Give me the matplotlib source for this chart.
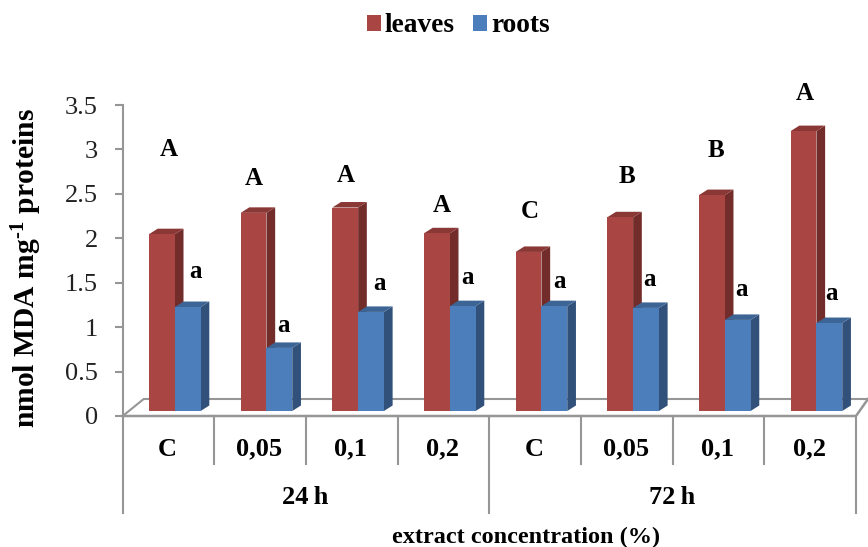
import matplotlib
matplotlib.use("Agg")
import matplotlib.pyplot as plt
from matplotlib.patches import Polygon

plt.rcParams['font.family'] = ['Liberation Serif', 'DejaVu Serif']
plt.rcParams['font.weight'] = 'bold'
plt.rcParams['mathtext.fontset'] = 'custom'
plt.rcParams['mathtext.rm'] = 'Liberation Serif:bold'
plt.rcParams['mathtext.bf'] = 'Liberation Serif:bold'
plt.rcParams['mathtext.default'] = 'rm'

# ---- data ----
concentrations = ['C', '0,05', '0,1', '0,2', 'C', '0,05', '0,1', '0,2']
times = ['24\u2009h', '72\u2009h']
leaves = [1.99, 2.23, 2.29, 2.00, 1.79, 2.18, 2.43, 3.15]
roots = [1.17, 0.71, 1.115, 1.18, 1.18, 1.16, 1.025, 0.99]
yticks = [0, 0.5, 1, 1.5, 2, 2.5, 3, 3.5]
ytick_labels = ['0', '0.5', '1', '1.5', '2', '2.5', '3', '3.5']
leaves_letters = ['A', 'A', 'A', 'A', 'C', 'B', 'B', 'A']
roots_letters = ['a'] * 8

# ---- styling / positions ----
W, H = 868, 547
AX_L, AX_R, AX_B, AX_T = 122.7, 856, 416, 105
leaves_letter_px = [(169, 150), (254, 179), (346, 175), (442, 205),
                    (530, 211), (627, 176), (716, 151), (805, 93)]
roots_letter_px = [(196, 272), (283, 325), (379, 283), (467, 278),
                   (560, 281), (650, 279), (742, 289), (832, 293)]
GRAY = '#969696'
C_L = ('#A94543', '#722D2B', '#8A3836')
C_R = ('#4C7EBB', '#31517A', '#3C6494')
FS = 19

fig = plt.figure(figsize=(W / 100, H / 100), dpi=100)
ax = fig.add_axes([AX_L / W, 1 - AX_B / H, (AX_R - AX_L) / W, (AX_B - AX_T) / H])
ax.set_xlim(0, 8)
ax.set_ylim(0, 3.5)
ax.patch.set_visible(False)
for s in ['top', 'right', 'bottom']:
    ax.spines[s].set_visible(False)
ax.spines['left'].set_color(GRAY)
ax.spines['left'].set_linewidth(1.5)

px_x = (AX_R - AX_L) / 8
px_y = (AX_B - AX_T) / 3.5
base = 5 / px_y
bar_w = 25.8 / px_x
off = 26.3 / px_x
dx, dy = 8.7 / px_x, 5.5 / px_y
fx, fy = 21 / px_x, 17 / px_y

# floor
ax.plot([0, fx, 8 + 12 / px_x], [0, fy, fy], color=GRAY, lw=1.5, clip_on=False, zorder=1)
ax.plot([0, 8, 8 + 12 / px_x], [0, 0, fy], color=GRAY, lw=1.8, clip_on=False, zorder=1)


def bars3d(xs, vals, cols, label, z):
    for x, v in zip(xs, vals):
        top = base + v
        ax.add_patch(Polygon([(x + bar_w, base), (x + bar_w + dx, base + dy),
                              (x + bar_w + dx, top + dy), (x + bar_w, top)],
                             fc=cols[1], ec='none', zorder=z, clip_on=False))
        ax.add_patch(Polygon([(x, top), (x + dx, top + dy),
                              (x + bar_w + dx, top + dy), (x + bar_w, top)],
                             fc=cols[2], ec='none', zorder=z, clip_on=False))
    return ax.bar(xs, vals, width=bar_w, bottom=base, align='edge', color=cols[0],
                  zorder=z + 0.1, label=label, clip_on=False)


xl = [i + off for i in range(8)]
xr = [i + off + bar_w for i in range(8)]
h1 = bars3d(xl, leaves, C_L, 'leaves', 3)
h2 = bars3d(xr, roots, C_R, 'roots', 4)

# value axis
ax.set_yticks(yticks)
ax.set_yticklabels(ytick_labels, fontsize=19, fontweight='normal', color='#222222')
ax.tick_params(axis='y', length=5.8, width=1.5, color=GRAY, pad=12)
ax.set_xticks([])

# multi-level category axis
def px2fig(x, y):
    return x / W, 1 - y / H

for i in range(9):
    x = AX_L + i * px_x
    y2 = 513 if i % 4 == 0 else 464
    fig.add_artist(plt.Line2D(*zip(px2fig(x, AX_B), px2fig(x, y2)), color=GRAY, lw=1.5))
for i, c in enumerate(concentrations):
    fx_, fy_ = px2fig(AX_L + (i + 0.5) * px_x - 1, 449)
    fig.text(fx_, fy_, c, ha='center', va='center', fontsize=FS)
for i, t in enumerate(times):
    fx_, fy_ = px2fig(AX_L + (i * 4 + 2) * px_x - 1, 498)
    fig.text(fx_, fy_, t, ha='center', va='center', fontsize=FS)

fx_, fy_ = px2fig(526, 537)
fig.text(fx_, fy_, 'extract concentration (%)', ha='center', va='center', fontsize=17.5)
fx_, fy_ = px2fig(27, 268)
fig.text(fx_, fy_, 'nmol MDA mg$^{\\text{-}1}$ proteins', rotation=90, ha='center', va='center', fontsize=21.3)

# significance letters
for s, (x, y) in zip(leaves_letters, leaves_letter_px):
    fx_, fy_ = px2fig(x, y)
    fig.text(fx_, fy_, s, ha='center', va='center', fontsize=18)
for s, (x, y) in zip(roots_letters, roots_letter_px):
    fx_, fy_ = px2fig(x, y)
    fig.text(fx_, fy_, s, ha='center', va='center', fontsize=18)

# legend
fx_, fy_ = px2fig(458, 26)
fig.legend([h1, h2], ['leaves', 'roots'], loc='center', bbox_to_anchor=(fx_, fy_), ncol=2,
           frameon=False, fontsize=19.7, handlelength=0.52, handleheight=0.52,
           handletextpad=0.12, columnspacing=0.7, borderpad=0)

fig.savefig('out.png', dpi=100, facecolor='white')
